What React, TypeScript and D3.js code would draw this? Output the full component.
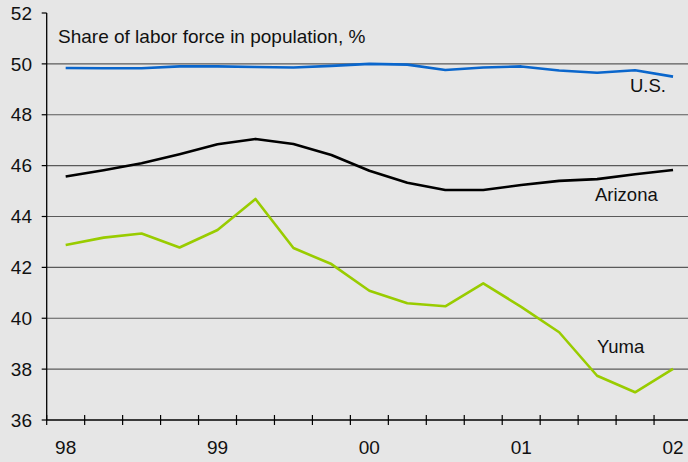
import React from "react";
import * as d3 from "d3";

const quarters = ["98Q1","98Q2","98Q3","98Q4","99Q1","99Q2","99Q3","99Q4","00Q1","00Q2","00Q3","00Q4","01Q1","01Q2","01Q3","01Q4","02Q1"];
const usValues = [49.84, 49.83, 49.83, 49.9, 49.9, 49.88, 49.86, 49.92, 50.0, 49.97, 49.76, 49.86, 49.9, 49.74, 49.65, 49.75, 49.5];
const arizonaValues = [45.57, 45.82, 46.09, 46.45, 46.84, 47.05, 46.85, 46.42, 45.8, 45.33, 45.04, 45.04, 45.24, 45.4, 45.47, 45.66, 45.83];
const yumaValues = [42.88, 43.17, 43.33, 42.78, 43.47, 44.69, 42.76, 42.13, 41.08, 40.59, 40.47, 41.37, 40.45, 39.45, 37.74, 37.09, 38.01];
const yTicks = [36, 38, 40, 42, 44, 46, 48, 50, 52];
const gridValues = [38, 40, 42, 44, 46, 48, 50];
const yearLabels = ["98", "99", "00", "01", "02"];
const title = "Share of labor force in population, %";

const W = 688;
const H = 462;
const left = 46.7;
const step = 37.96;
const font = "'Liberation Sans', Arial, Helvetica, sans-serif";

export default function App() {
  const x = d3.scaleLinear().domain([0, quarters.length]).range([left, left + quarters.length * step]);
  const y = d3.scaleLinear().domain([36, 52]).range([420, 13]);
  const line = d3
    .line<number>()
    .x((_, i) => x(i + 0.5))
    .y((d) => y(d));

  const series = [
    { values: usValues, color: "#0a66cc", label: "U.S.", lx: 630, ly: 91.7 },
    { values: arizonaValues, color: "#000000", label: "Arizona", lx: 595, ly: 200.7 },
    { values: yumaValues, color: "#99cc00", label: "Yuma", lx: 597, ly: 353.3 },
  ];

  const tickIdx = d3.range(0, quarters.length);

  return (
    <svg
      width={W}
      height={H}
      style={{ position: "absolute", left: 0, top: 0, background: "#e6e6e6" }}
    >
      <rect x={0} y={0} width={W} height={H} fill="#e6e6e6" />
      {gridValues.map((v) => (
        <line key={v} x1={left} x2={W} y1={y(v)} y2={y(v)} stroke="#5a5a5a" strokeWidth={1.2} />
      ))}
      <line x1={left} x2={left} y1={y(52)} y2={y(36)} stroke="#000" strokeWidth={1.3} />
      {yTicks.map((v) => (
        <g key={v}>
          <line x1={left - 5} x2={left} y1={y(v)} y2={y(v)} stroke="#000" strokeWidth={1.2} />
          <text
            x={32}
            y={y(v)}
            dy="0.35em"
            textAnchor="end"
            fontFamily={font}
            fontSize={19}
            fill="#111"
          >
            {v}
          </text>
        </g>
      ))}
      <line x1={left} x2={W} y1={y(36)} y2={y(36)} stroke="#000" strokeWidth={1.3} />
      {tickIdx.map((i) => (
        <line key={i} x1={x(i)} x2={x(i)} y1={y(36) - 5} y2={y(36) + 5} stroke="#000" strokeWidth={1.2} />
      ))}
      {yearLabels.map((lab, k) => (
        <text
          key={lab}
          x={x(k * 4 + 0.5)}
          y={454}
          textAnchor="middle"
          fontFamily={font}
          fontSize={19}
          fill="#111"
        >
          {lab}
        </text>
      ))}
      {series.map((s) => (
        <path
          key={s.label}
          d={line(s.values) || ""}
          fill="none"
          stroke={s.color}
          strokeWidth={2.6}
          strokeLinejoin="round"
        />
      ))}
      {series.map((s) => (
        <text key={s.label + "l"} x={s.lx} y={s.ly} fontFamily={font} fontSize={18.5} fill="#111">
          {s.label}
        </text>
      ))}
      <text x={58} y={43.3} fontFamily={font} fontSize={19} fill="#111">
        {title}
      </text>
    </svg>
  );
}
